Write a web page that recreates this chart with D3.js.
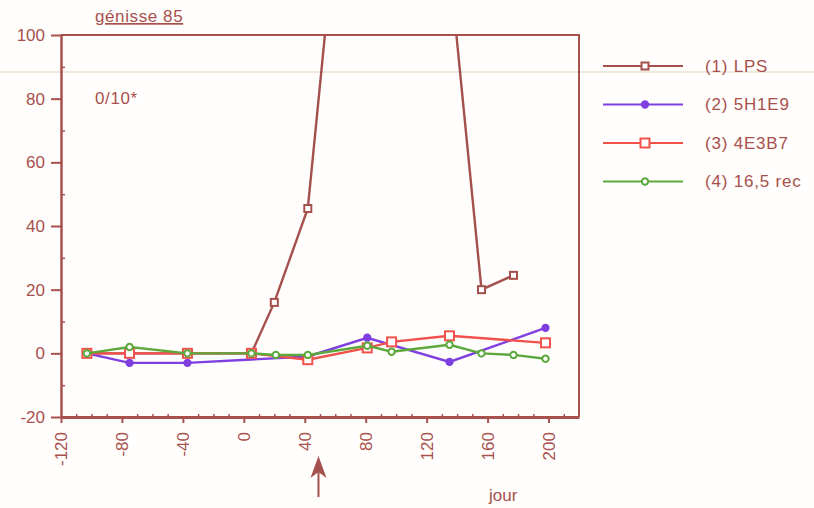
<!DOCTYPE html>
<meta charset="utf-8">
<title>génisse 85</title>
<style>
body { margin: 0; background: #fffefc; }
text { font-family: "Liberation Sans", Arial, sans-serif; fill: #a8504c; }
.axis path, .axis line { stroke: #a8504c; }
.axis text { font-size: 17px; fill: #a8504c; }
</style>
<svg width="814" height="508"></svg>
<script src="https://cdn.jsdelivr.net/npm/d3@7"></script>
<script>

// days and values (LPS goes off scale between 50 and 140)
var lpsDays   = [-103, -75, -37, 5, 20, 42, 80, 135, 156, 177];
var lpsVals   = [0, 0, 0, 0, 16, 45.5, 230, 122, 20, 24.5];
var h1e9Days  = [-103, -75, -37, 42, 81, 135, 198];
var h1e9Vals  = [0, -3, -3, -1, 4.9, -2.7, 8];
var e3b7Days  = [-103, -75, -37, 5, 42, 81, 97, 135, 198];
var e3b7Vals  = [0, 0, 0, 0, -2, 1.7, 3.6, 5.5, 3.3];
var recDays   = [-103, -75, -37, 5, 21, 42, 81, 97, 135, 156, 177, 198];
var recVals   = [0, 2, 0, 0, -0.5, -0.5, 2.4, 0.5, 2.7, 0, -0.5, -1.7];

var seriesNames = ["(1) LPS", "(2) 5H1E9", "(3) 4E3B7", "(4) 16,5 rec"];
var xTicks = [-120, -80, -40, 0, 40, 80, 120, 160, 200];
var yTicks = [-20, 0, 20, 40, 60, 80, 100];

var series = [
  {name: seriesNames[0], days: lpsDays, vals: lpsVals, color: "#a4504c", mark: "sqsmall"},
  {name: seriesNames[1], days: h1e9Days, vals: h1e9Vals, color: "#7f3fe0", mark: "dot"},
  {name: seriesNames[2], days: e3b7Days, vals: e3b7Vals, color: "#f2504a", mark: "square"},
  {name: seriesNames[3], days: recDays, vals: recVals, color: "#5ca83c", mark: "ring"}
];

var svg = d3.select("svg");
var axisColor = "#a8504c";

var x = d3.scaleLinear().domain([-120, 220]).range([61, 579]);
var y = d3.scaleLinear().domain([-20, 100]).range([417, 35]);

// scan artefact: faint horizontal streak
svg.append("line")
    .attr("x1", 0).attr("x2", 814).attr("y1", 72).attr("y2", 72)
    .attr("stroke", "#f0e8dc").attr("stroke-width", 2);

svg.append("defs").append("clipPath").attr("id", "plot")
  .append("rect")
    .attr("x", x.range()[0]).attr("y", y.range()[1])
    .attr("width", x.range()[1] - x.range()[0])
    .attr("height", y.range()[0] - y.range()[1]);

// frame top and right
svg.append("path")
    .attr("d", "M" + x.range()[0] + "," + y(100) + "H" + x.range()[1] + "V" + y(-20))
    .attr("fill", "none").attr("stroke", axisColor).attr("stroke-width", 2);

// minor ticks
svg.append("g").attr("class", "axis")
    .attr("transform", "translate(" + x.range()[0] + ",0)")
    .call(d3.axisRight(y).tickValues(d3.range(-10, 100, 20)).tickSize(4).tickFormat(""))
    .call(function(g) { g.select(".domain").remove(); })
    .selectAll("line").attr("stroke-width", 1.5);

svg.append("g").attr("class", "axis")
    .attr("transform", "translate(0," + y(-20) + ")")
    .call(d3.axisTop(x).tickValues(d3.range(-110, 220, 10).filter(function(d) { return d % 40 !== 0; })).tickSize(3).tickFormat(""))
    .call(function(g) { g.select(".domain").remove(); })
    .selectAll("line").attr("stroke-width", 1.5);

var plain = function(d) { return String(d); };

var yAxis = svg.append("g").attr("class", "axis")
    .attr("transform", "translate(" + x.range()[0] + ",0)")
    .call(d3.axisLeft(y).tickValues(yTicks).tickFormat(plain).tickSize(10).tickSizeOuter(0).tickPadding(6));
yAxis.select(".domain").attr("stroke-width", 2.5);
yAxis.selectAll("line").attr("stroke-width", 2);

var xAxis = svg.append("g").attr("class", "axis")
    .attr("transform", "translate(0," + y(-20) + ")")
    .call(d3.axisBottom(x).tickValues(xTicks).tickFormat(plain).tickSize(6).tickSizeOuter(0));
xAxis.select(".domain").attr("stroke-width", 3);
xAxis.selectAll("line").attr("stroke-width", 2);
xAxis.selectAll("text")
    .attr("transform", "rotate(-90)")
    .attr("text-anchor", "end")
    .attr("x", -15).attr("y", 0).attr("dy", "0.35em");

var line = d3.line()
    .x(function(d) { return x(d[0]); })
    .y(function(d) { return y(d[1]); });

function drawMark(g, s, cx, cy) {
  if (s.mark === "sqsmall") {
    g.append("rect").attr("x", cx - 3.5).attr("y", cy - 3.5).attr("width", 7).attr("height", 7)
        .attr("fill", "#fff").attr("stroke", s.color).attr("stroke-width", 2);
  } else if (s.mark === "square") {
    g.append("rect").attr("x", cx - 4.5).attr("y", cy - 4.5).attr("width", 9).attr("height", 9)
        .attr("fill", "#fff").attr("stroke", s.color).attr("stroke-width", 2);
  } else if (s.mark === "dot") {
    g.append("path").attr("d", d3.symbol(d3.symbolCircle, 36)())
        .attr("transform", "translate(" + cx + "," + cy + ")")
        .attr("fill", s.color).attr("stroke", s.color).attr("stroke-width", 1.5);
  } else {
    g.append("path").attr("d", d3.symbol(d3.symbolCircle, 32)())
        .attr("transform", "translate(" + cx + "," + cy + ")")
        .attr("fill", "#fff").attr("stroke", s.color).attr("stroke-width", 2);
  }
}

var plot = svg.append("g").attr("clip-path", "url(#plot)");

series.forEach(function(s) {
  var pts = s.days.map(function(d, i) { return [d, s.vals[i]]; });
  var g = plot.append("g");
  g.append("path").datum(pts)
      .attr("d", line)
      .attr("fill", "none").attr("stroke", s.color).attr("stroke-width", 2.4);
  pts.forEach(function(p) {
    if (p[1] <= 100) drawMark(g, s, x(p[0]), y(p[1]));
  });
});

// legend
series.forEach(function(s, i) {
  var ly = 66 + i * 38.5;
  var g = svg.append("g");
  g.append("line").attr("x1", 603).attr("x2", 683).attr("y1", ly).attr("y2", ly)
      .attr("stroke", s.color).attr("stroke-width", 2.2);
  drawMark(g, s, 645, ly);
  g.append("text").attr("x", 705).attr("y", ly).attr("dy", "0.35em")
      .style("font-size", "17px").style("letter-spacing", "0.8px").text(s.name);
});

// title and notes
svg.append("text").attr("x", 95).attr("y", 22)
    .style("font-size", "17px").style("letter-spacing", "0.6px")
    .style("text-decoration", "underline")
    .text("génisse 85");
svg.append("text").attr("x", 95).attr("y", 104)
    .style("font-size", "17px").style("letter-spacing", "0.6px").text("0/10*");
svg.append("text").attr("x", 489).attr("y", 501)
    .style("font-size", "17px").text("jour");

// arrow marking the challenge day
var ax = x(49);
svg.append("line").attr("x1", ax).attr("x2", ax).attr("y1", 466).attr("y2", 497)
    .attr("stroke", "#a4504c").attr("stroke-width", 2);
svg.append("path")
    .attr("d", "M" + ax + ",456 L" + (ax - 8) + ",478 L" + ax + ",472 L" + (ax + 8) + ",478 Z")
    .attr("fill", "#a4504c");

</script>
